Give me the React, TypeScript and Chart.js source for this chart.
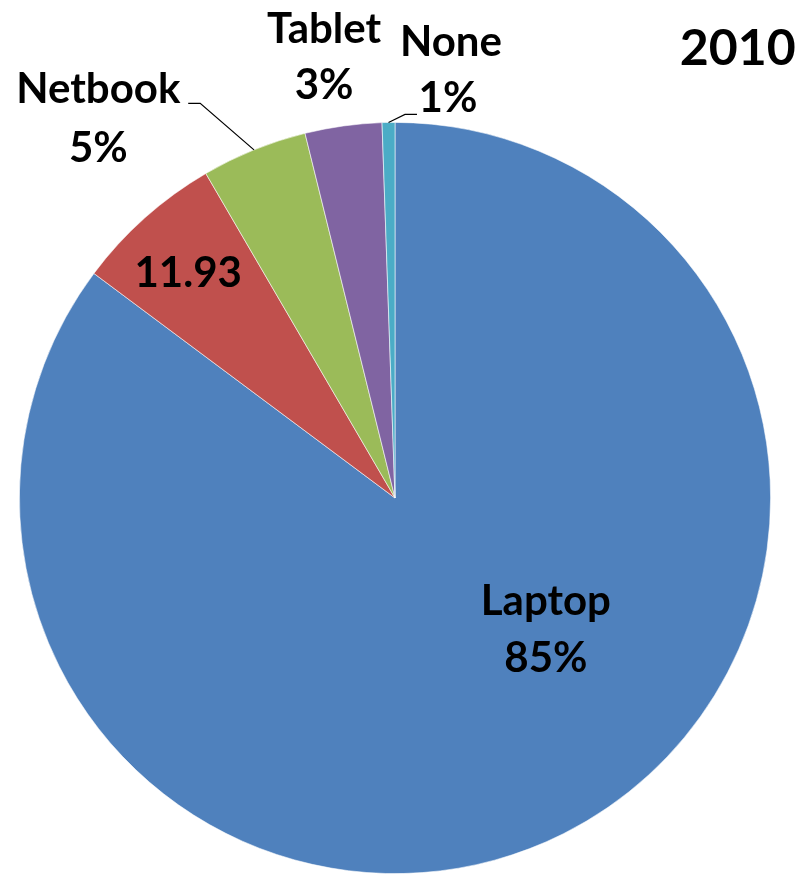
import React, { useEffect, useRef } from "react";
import { Chart, registerables } from "chart.js";

Chart.register(...registerables);

const categories = ["Laptop", "Desktop", "Netbook", "Tablet", "None"];
const shares = [85.2, 6.4, 4.55, 3.3, 0.55];
const sliceLabels = [["Laptop", "85%"], ["11.93"], ["Netbook", "5%"], ["Tablet", "3%"], ["None", "1%"]];
const colors = ["#4F81BD", "#C0504D", "#9BBB59", "#8064A2", "#4BACC6"];
const title = "2010";

const FONT = "Lato, 'Open Sans', sans-serif";
const BASE_R = 376;

// label anchors relative to pie centre (px at radius 376): [dx, dy of first baseline, line gap]
const labelPlacement = [
  { dx: 151, dy: 117, gap: 57 },
  { dx: -207, dy: -211, gap: 0 },
  { dx: -297, dy: -395, gap: 59 },
  { dx: -71, dy: -455, gap: 56 },
  { dx: 56, dy: -442, gap: 56, dx2: 53 },
];
// leader lines: [start, elbow] relative to centre, end at slice mid-edge
const leaders: Record<number, number[][]> = {
  2: [[-207, -395], [-195, -395]],
  4: [[22, -384], [10, -384]],
};

const labelPlugin = {
  id: "sliceLabels",
  afterDraw(chart: any) {
    const meta = chart.getDatasetMeta(0);
    const arcs = meta.data;
    if (!arcs.length) return;
    const cx = arcs[0].x;
    const cy = arcs[0].y;
    const r = arcs[0].outerRadius;
    const k = r / BASE_R;
    const ctx = chart.ctx;
    ctx.save();
    ctx.strokeStyle = "#000";
    ctx.lineWidth = 1.2;
    Object.keys(leaders).forEach((key) => {
      const i = Number(key);
      const a = arcs[i];
      const mid = (a.startAngle + a.endAngle) / 2;
      const ex = cx + Math.cos(mid) * r;
      const ey = cy + Math.sin(mid) * r;
      const pts = leaders[i];
      ctx.beginPath();
      ctx.moveTo(cx + pts[0][0] * k, cy + pts[0][1] * k);
      ctx.lineTo(cx + pts[1][0] * k, cy + pts[1][1] * k);
      ctx.lineTo(ex, ey);
      ctx.stroke();
    });
    ctx.fillStyle = "#000";
    ctx.textAlign = "center";
    ctx.textBaseline = "alphabetic";
    ctx.font = `bold ${Math.round(42 * k)}px ${FONT}`;
    sliceLabels.forEach((lines, i) => {
      const p: any = labelPlacement[i];
      lines.forEach((t, j) => {
        const dx = j > 0 && p.dx2 !== undefined ? p.dx2 : p.dx;
        ctx.fillText(t, cx + dx * k, cy + (p.dy + j * p.gap) * k);
      });
    });
    ctx.font = `bold ${Math.round(50 * k)}px ${FONT}`;
    ctx.fillText(title, cx + 343 * k, cy - 433 * k);
    ctx.restore();
  },
};

export default function App() {
  const ref = useRef<HTMLCanvasElement | null>(null);
  useEffect(() => {
    if (!ref.current) return;
    const chart = new Chart(ref.current, {
      type: "pie",
      data: {
        labels: categories,
        datasets: [
          {
            data: shares,
            backgroundColor: colors,
            borderColor: "rgba(255,255,255,0.7)",
            borderWidth: 0.8,
          },
        ],
      },
      options: {
        responsive: false,
        animation: false,
        devicePixelRatio: 1,
        layout: { padding: { left: 19, right: 31, top: 122, bottom: 0 } },
        plugins: {
          legend: { display: false },
          tooltip: { enabled: false },
          title: { display: false },
        },
      },
      plugins: [labelPlugin],
    });
    return () => chart.destroy();
  }, []);
  return (
    <div style={{ position: "fixed", left: 0, top: 0, width: 802, height: 874, background: "#fff" }}>
      <canvas ref={ref} width={802} height={874} style={{ width: 802, height: 874, display: "block" }} />
    </div>
  );
}
